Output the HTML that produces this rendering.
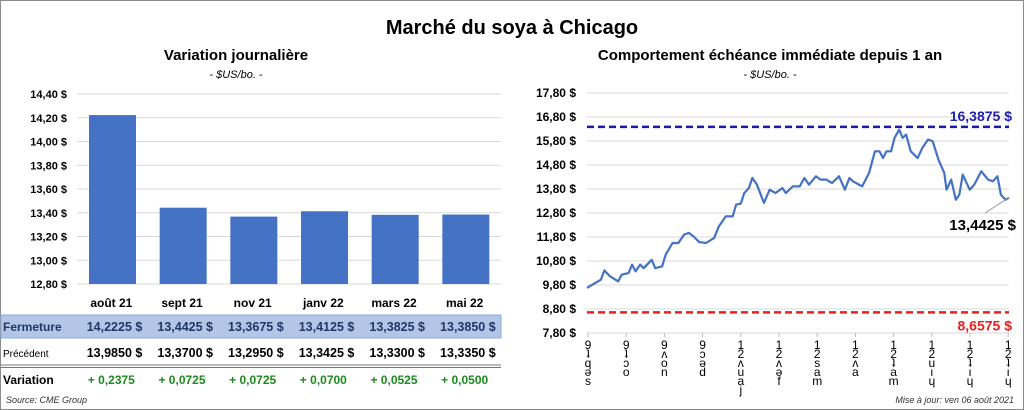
<!DOCTYPE html>
<html><head><meta charset="utf-8"><style>
body{margin:0;background:#fff;}
#root{position:relative;width:1024px;height:410px;overflow:hidden;font-family:"Liberation Sans",sans-serif;}
svg text{font-family:"Liberation Sans",sans-serif;}
</style></head><body>
<div id="root">
<svg id="s" width="1024" height="410">
<rect x="0.5" y="0.5" width="1023" height="409" fill="#fff" stroke="#8c8c8c"/>
<text x="512" y="34" text-anchor="middle" font-size="20" font-weight="bold">Marché du soya à Chicago</text>
<text x="236" y="60" text-anchor="middle" font-size="15" font-weight="bold">Variation  journalière</text>
<text x="236" y="78" text-anchor="middle" font-size="11" font-style="italic">- $US/bo. -</text>
<text x="770" y="60" text-anchor="middle" font-size="15" font-weight="bold">Comportement  échéance immédiate depuis 1 an</text>
<text x="770" y="78" text-anchor="middle" font-size="11" font-style="italic">- $US/bo. -</text>
<g id="left"></g><g id="right"></g><g id="table"></g>
<text x="6" y="403" font-size="9" font-style="italic" fill="#333">Source: CME Group</text>
<text x="1014" y="403" text-anchor="end" font-size="9" font-style="italic" fill="#333">Mise à jour: ven 06 août 2021</text>
</svg>
</div>
<script>
const months=["août 21","sept 21","nov 21","janv 22","mars 22","mai 22"];
const closes=[14.2225,13.4425,13.3675,13.4125,13.3825,13.3850];
const previous=[13.9850,13.3700,13.2950,13.3425,13.3300,13.3350];
const leftTicks=[12.8,13.0,13.2,13.4,13.6,13.8,14.0,14.2,14.4];
const days=[0,7,12,15,20,27,30,36,39,42,46,49,56,59,65,68,74,79,84,88,92,97,103,110,114,120,126,129,133,136,140,143,147,153,158,163,169,172,178,184,188,192,198,202,207,212,218,223,227,230,238,244,249,253,256,259,263,266,270,273,276,280,286,290,295,299,304,309,311,315,319,322,325,331,335,341,347,351,355,358,362,365];
const prices=[9.68,9.88,10.02,10.41,10.16,9.95,10.23,10.3,10.65,10.37,10.65,10.5,10.85,10.5,10.58,11.06,11.55,11.55,11.9,11.97,11.83,11.59,11.55,11.76,12.24,12.66,12.66,13.15,13.19,13.63,13.84,14.26,13.98,13.22,13.77,13.63,13.84,13.63,13.91,13.91,14.26,13.98,14.33,14.19,14.19,14.05,14.33,13.77,14.26,14.12,13.91,14.47,15.37,15.37,15.09,15.37,15.37,15.93,16.27,15.93,16.07,15.37,15.09,15.51,15.86,15.79,15.02,14.47,13.77,14.19,13.35,13.56,14.4,13.77,13.98,14.54,14.19,14.12,14.33,13.56,13.35,13.44];
const rightTicks=[7.8,8.8,9.8,10.8,11.8,12.8,13.8,14.8,15.8,16.8,17.8];
const highVal=16.3875, lowVal=8.6575, lastVal=13.4425;
const xLabels=[["9","ʇ","q","ə","s"],["9","ʇ","ɔ","o"],["9","ʌ","o","n"],["9","ɔ","ə","d"],["1","2","ʌ","u","a","j"],["1","2","ʌ","ə","f"],["1","2","s","a","m"],["1","2","ʌ","a"],["1","2","ʇ","a","m"],["1","2","u","ı","ɥ"],["1","2","ʇ","ı","ɥ"],["1","2","ʇ","ı","ɥ"]];
const NS="http://www.w3.org/2000/svg";
function mk(p,t,a,txt){const e=document.createElementNS(NS,t);for(const k in a)e.setAttribute(k,a[k]);if(txt!=null)e.textContent=txt;p.appendChild(e);return e;}
const fmt=(v,d)=>v.toFixed(d).replace(".",",");
const L=document.getElementById("left");
const lx0=77,lx1=501,ly=v=>284-(v-12.8)*118.75,bw=(lx1-lx0)/6;
leftTicks.forEach(v=>{const g=mk(L,"line",{x1:lx0,x2:lx1,y1:ly(v),y2:ly(v),stroke:"#d9d9d9"});


const t=mk(L,"text",{x:67,y:ly(v)+4,"text-anchor":"end","font-size":11,"font-weight":"bold"},fmt(v,2)+" $");

});
closes.forEach((v,i)=>{const r=mk(L,"rect",{x:lx0+i*bw+12,y:ly(v),width:47,height:ly(12.8)-ly(v),fill:"#4472c4"});

});
const T=document.getElementById("table");
const cx=i=>lx0+i*bw+bw/2-1;
const band=mk(T,"rect",{x:1,y:315,width:500,height:23,fill:"#b4c6e7",stroke:"#8ea9db"});


const dl1=mk(T,"line",{x1:1,x2:501,y1:365,y2:365,stroke:"#777"});


const dl2=mk(T,"line",{x1:1,x2:501,y1:367.5,y2:367.5,stroke:"#777"});


const rl=[["Fermeture",331,"#1f3864",12,"bold"],["Précédent",357,"#000",10,"normal"],["Variation",384,"#000",12,"bold"]];
rl.forEach(r=>{const t=mk(T,"text",{x:3,y:r[1],fill:r[2],"font-size":r[3],"font-weight":r[4]},r[0]);

});
months.forEach((m,i)=>{
const h=mk(T,"text",{x:cx(i),y:307,"text-anchor":"middle","font-size":12,"font-weight":"bold"},m);


const a=mk(T,"text",{x:cx(i)+31,y:331,"text-anchor":"end","font-size":12.5,"font-weight":"bold",fill:"#1f3864","xml:space":"preserve"},fmt(closes[i],4)+"  $");


const b=mk(T,"text",{x:cx(i)+31,y:357,"text-anchor":"end","font-size":12.5,"font-weight":"bold","xml:space":"preserve"},fmt(previous[i],4)+"  $");


const c=mk(T,"text",{x:cx(i),y:384,"text-anchor":"middle","font-size":12,"font-weight":"bold",fill:"#1e8a1e"},"+ "+fmt(closes[i]-previous[i],4));

});
const R=document.getElementById("right");
const rx0=587,rx1=1009,ry=v=>333-(v-7.8)*24,dx=d=>rx0+d/365*(rx1-rx0);
rightTicks.forEach(v=>{const g=mk(R,"line",{x1:rx0,x2:rx1,y1:ry(v),y2:ry(v),stroke:"#d9d9d9"});


const t=mk(R,"text",{x:576,y:ry(v)+4,"text-anchor":"end","font-size":12,"font-weight":"bold"},fmt(v,2)+" $");

});
xLabels.forEach((lab,i)=>{const x=588+i*38.2;
const tk=mk(R,"line",{x1:x,x2:x,y1:333,y2:337,stroke:"#bbb"});


lab.forEach((ch,j)=>{const t=mk(R,"text",{x:x,y:349+j*9,"text-anchor":"middle","font-size":12},ch);

});});
const hi=mk(R,"line",{x1:rx0,x2:rx1,y1:ry(highVal),y2:ry(highVal),stroke:"#1a1aa8","stroke-width":2.5,"stroke-dasharray":"7,4"});


const lo=mk(R,"line",{x1:rx0,x2:rx1,y1:ry(lowVal),y2:ry(lowVal),stroke:"#e82020","stroke-width":2.5,"stroke-dasharray":"7,4"});


const ht=mk(R,"text",{x:1012,y:ry(highVal)-6,"text-anchor":"end","font-size":14,"font-weight":"bold",fill:"#2020b0"},fmt(highVal,4)+"  $");


const lt=mk(R,"text",{x:1012,y:ry(lowVal)+18,"text-anchor":"end","font-size":14,"font-weight":"bold",fill:"#e82020"},fmt(lowVal,4)+" $");


const pl=mk(R,"polyline",{points:days.map((d,i)=>dx(d)+","+ry(prices[i])).join(" "),fill:"none",stroke:"#4472c4","stroke-width":2.2,"stroke-linejoin":"round"});


const ll=mk(R,"line",{x1:dx(365),y1:ry(lastVal),x2:985,y2:213,stroke:"#999"});


const lv=mk(R,"text",{x:1016,y:230,"text-anchor":"end","font-size":15,"font-weight":"bold"},fmt(lastVal,4)+" $");


</script>
</body></html>
